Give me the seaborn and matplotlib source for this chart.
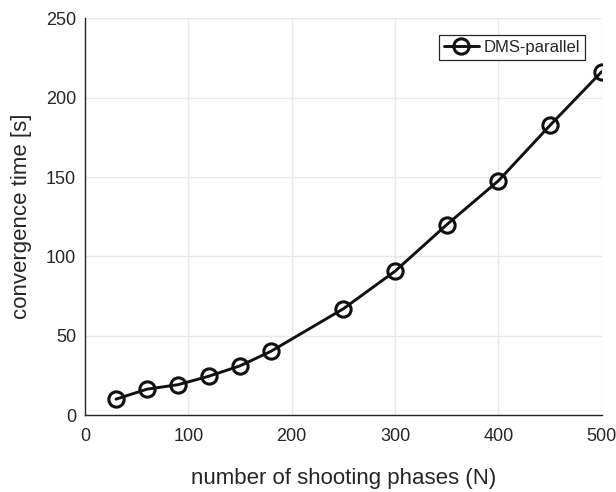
import numpy as np
import pandas as pd
import seaborn as sns
import matplotlib.pyplot as plt

# data
phases = [30, 60, 90, 120, 150, 180, 250, 300, 350, 400, 450, 500]
conv_time = [10, 16.3, 19.1, 24.5, 31, 40.2, 67, 90.7, 120, 147.7, 182.7, 216.5]
series_name = 'DMS-parallel'

df = pd.DataFrame({'N': phases, 'time': conv_time, 'method': series_name})

sns.set_style('whitegrid')
plt.rcParams['font.family'] = ['Liberation Sans', 'DejaVu Sans']

fig = plt.figure(figsize=(6.16, 4.92), dpi=100)
ax = fig.add_axes([0.138, 0.1565, 0.839, 0.806])

sns.lineplot(data=df, x='N', y='time', hue='method', palette=['#111111'],
             marker='o', markersize=11, markerfacecolor='none',
             markeredgewidth=2.2, markeredgecolor='#111111', linewidth=2.1, ax=ax)

ax.set_xlim(0, 500)
ax.set_ylim(0, 250)
ax.set_xticks(range(0, 501, 100))
ax.set_yticks(range(0, 251, 50))
ax.grid(True, color='#e8e8e8', linewidth=1.0)
for s in ['top', 'right']:
    ax.spines[s].set_visible(False)
for s in ['left', 'bottom']:
    ax.spines[s].set_color('#262626')
    ax.spines[s].set_linewidth(1.0)
ax.tick_params(axis='both', labelsize=13, colors='#262626', labelcolor='#262626',
               direction='in', length=3.5, width=1.0)
ax.tick_params(axis='x', pad=9)
ax.tick_params(axis='y', pad=6.5)

ax.set_xlabel('number of shooting phases (N)', fontsize=16, color='#262626', labelpad=17)
ax.set_ylabel('convergence time [s]', fontsize=16, color='#262626', labelpad=10)

leg = ax.legend(loc='upper right', fontsize=12, frameon=True, fancybox=False,
                borderaxespad=1.0, handlelength=2.1, handletextpad=0.3,
                borderpad=0.3)
leg.get_frame().set_edgecolor('#262626')
leg.get_frame().set_linewidth(0.9)
leg.get_frame().set_alpha(1)

fig.savefig('out.png', dpi=100)
